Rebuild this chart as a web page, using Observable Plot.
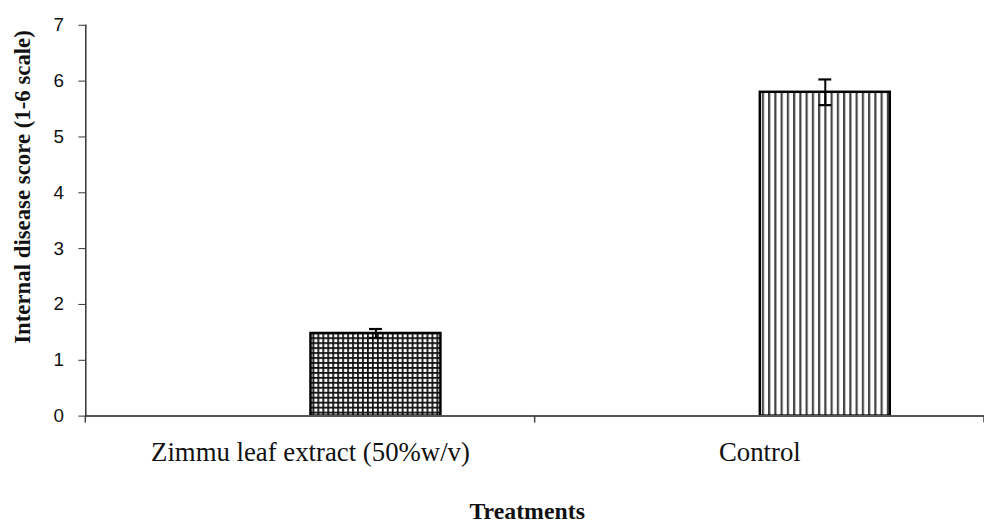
<!DOCTYPE html>
<html>
<head>
<meta charset="utf-8">
<script src="https://cdn.jsdelivr.net/npm/d3@7"></script>
<script src="https://cdn.jsdelivr.net/npm/@observablehq/plot@0.6"></script>
<style>
  html, body { margin: 0; padding: 0; overflow: hidden; background: #fff; }
</style>
</head>
<body>
<div id="chart"></div>
<script>
// ---- data ----
const treatments = ["Zimmu leaf extract (50%w/v)", "Control"];
const meanScore = [1.48, 5.80];
const errScore = [0.08, 0.23];
const yTicks = [0, 1, 2, 3, 4, 5, 6, 7];
const seriesSlots = ["Series1", "Series2"]; // Series1 is empty (as in the original)
const yLabel = "Internal disease score (1-6 scale)";
const xLabel = "Treatments";

// ---- styles ----
const patternIds = ["grid", "vstripe"];

const rows = treatments.map((t, i) => ({
  treatment: t,
  series: "Series2",
  mean: meanScore[i],
  lo: meanScore[i] - errScore[i],
  hi: meanScore[i] + errScore[i],
  pattern: `url(#${patternIds[i]})`
}));

const serif = "'Liberation Serif', 'Times New Roman', serif";
const sans = "'Liberation Sans', Arial, sans-serif";

const chart = Plot.plot({
  width: 992,
  height: 525,
  marginTop: 25,
  marginBottom: 106,
  marginLeft: 86,
  marginRight: 0,
  fx: {domain: treatments, padding: 0, axis: null, label: null},
  x: {domain: seriesSlots, paddingInner: 0, paddingOuter: 0.729, axis: null},
  y: {domain: [0, 7], axis: null},
  color: {type: "identity"},
  style: {background: "#fff", overflow: "visible"},
  marks: [
    Plot.barY(rows, {fx: "treatment", x: "series", y: "mean", fill: "pattern", stroke: "#000", strokeWidth: 2.5}),
    Plot.ruleX(rows, {fx: "treatment", x: "series", y1: "lo", y2: "hi", stroke: "#000", strokeWidth: 2}),
    Plot.tickY(rows, {fx: "treatment", x: "series", y: "hi", stroke: "#000", strokeWidth: 2.2, insetLeft: 59, insetRight: 59}),
    Plot.tickY(rows, {fx: "treatment", x: "series", y: "lo", stroke: "#000", strokeWidth: 2.2, insetLeft: 59, insetRight: 59}),
    Plot.ruleY([0], {stroke: "#555", strokeWidth: 2}),
    Plot.frame({anchor: "left", facetAnchor: "left", stroke: "#333", strokeWidth: 1.5}),
    Plot.axisY({ticks: yTicks, tickFormat: d3.format("d"), tickSize: 7, tickPadding: 15, fontSize: 19, fontFamily: sans, label: null, stroke: "#333", color: "#111"}),
    Plot.axisFx({anchor: "bottom", tickSize: 0, tickPadding: 26, fontSize: 27, fontFamily: serif, label: null, color: "#111"}),
    Plot.text([yLabel], {facet: "super", frameAnchor: "left", textAnchor: "middle", lineAnchor: "middle", rotate: -90, dx: -64, dy: -34, fontSize: 23, fontWeight: "bold", fontFamily: serif, fill: "#111"}),
    Plot.text([xLabel], {facet: "super", frameAnchor: "bottom", textAnchor: "middle", lineAnchor: "middle", dx: -8, dy: 96, fontSize: 24, fontWeight: "bold", fontFamily: serif, fill: "#111"})
  ]
});

// patterns
const ns = "http://www.w3.org/2000/svg";
const defs = document.createElementNS(ns, "defs");
defs.innerHTML = `
  <pattern id="grid" patternUnits="userSpaceOnUse" width="5" height="5">
    <rect width="5" height="5" fill="#fff"/>
    <rect width="1.8" height="5" fill="#111"/>
    <rect width="5" height="1.8" fill="#111"/>
  </pattern>
  <pattern id="vstripe" patternUnits="userSpaceOnUse" width="6.3" height="6">
    <rect width="6.3" height="6" fill="#fff"/>
    <rect width="2.2" height="6" fill="#444"/>
  </pattern>`;
chart.insertBefore(defs, chart.firstChild);

// category boundary ticks, placed via the fx and y scales
const fx = chart.scale("fx");
const ys = chart.scale("y");
const edges = treatments.map(t => fx.apply(t)).concat([fx.apply(treatments[treatments.length - 1]) + fx.bandwidth]);
const y0 = ys.apply(0);
const g = document.createElementNS(ns, "g");
g.setAttribute("stroke", "#444");
g.setAttribute("stroke-width", "1.5");
for (const xe of edges) {
  const l = document.createElementNS(ns, "line");
  l.setAttribute("x1", xe); l.setAttribute("x2", xe);
  l.setAttribute("y1", y0); l.setAttribute("y2", y0 + 7);
  g.appendChild(l);
}
chart.appendChild(g);

document.getElementById("chart").appendChild(chart);
</script>
</body>
</html>
